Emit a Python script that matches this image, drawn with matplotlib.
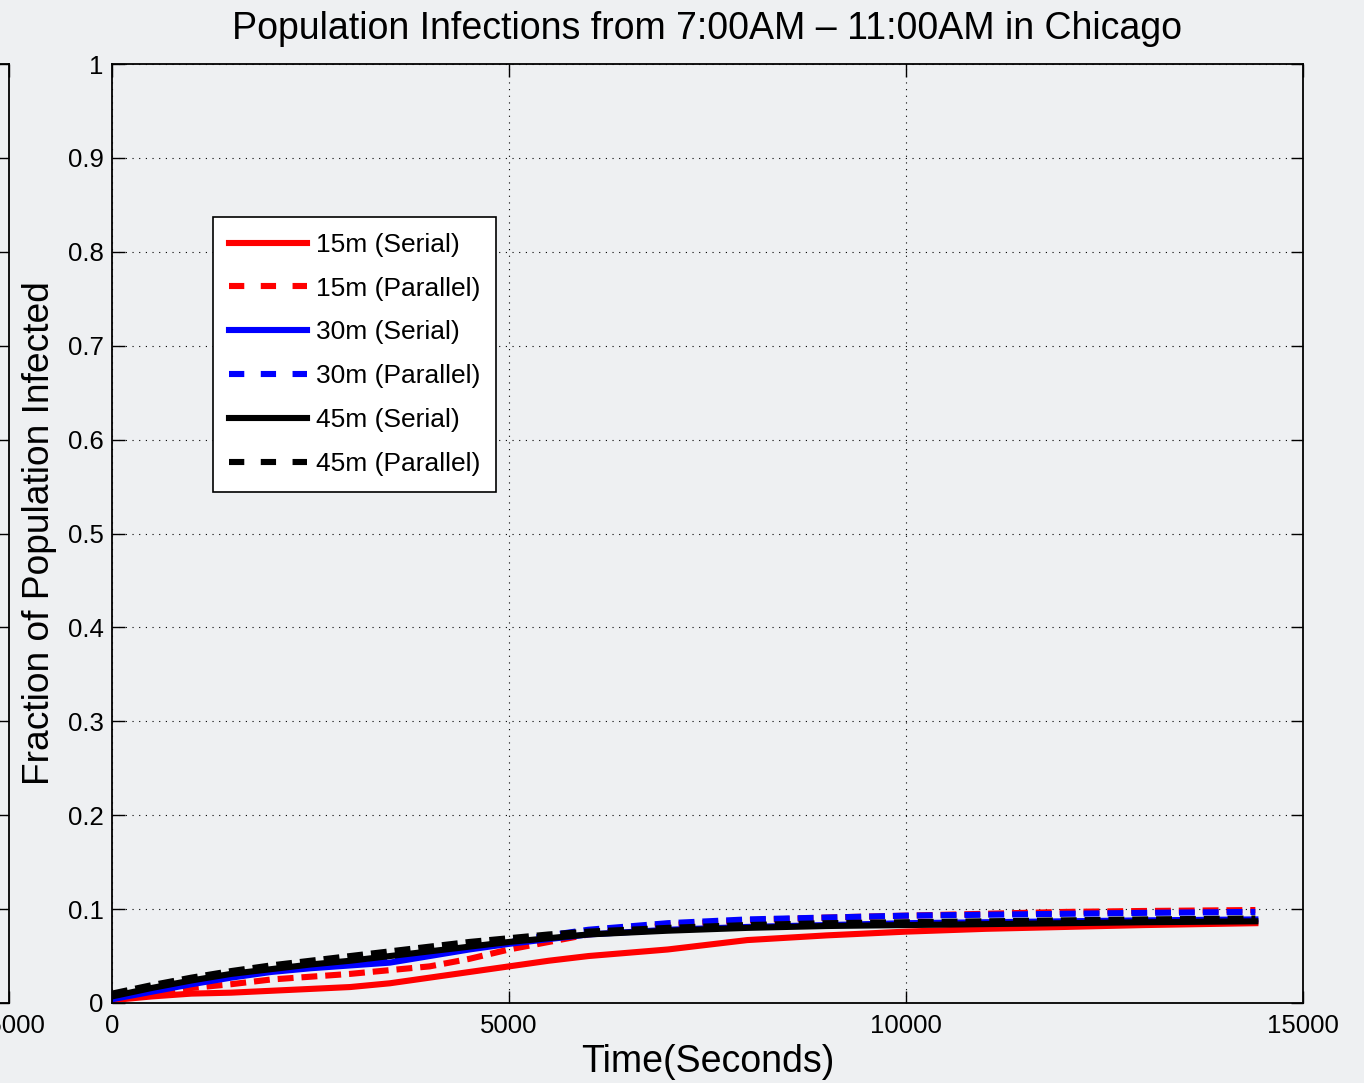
import matplotlib.pyplot as plt

# time axis (seconds) shared by all series
t = [0, 500, 1000, 1500, 2000, 2500, 3000, 3500, 4000, 4500, 5000,
     5500, 6000, 7000, 8000, 9000, 10000, 11000, 12000, 13000, 14400]

s15_serial = [0.003, 0.007, 0.010, 0.011, 0.013, 0.015, 0.017, 0.021, 0.027, 0.033, 0.039,
              0.045, 0.050, 0.057, 0.067, 0.072, 0.076, 0.079, 0.081, 0.083, 0.085]
s15_parallel = [0.005, 0.010, 0.016, 0.020, 0.025, 0.028, 0.031, 0.035, 0.039, 0.047, 0.057,
                0.065, 0.073, 0.083, 0.088, 0.091, 0.093, 0.095, 0.097, 0.098, 0.099]
s30_serial = [0.004, 0.012, 0.020, 0.027, 0.033, 0.037, 0.040, 0.043, 0.050, 0.057, 0.063,
              0.068, 0.073, 0.078, 0.081, 0.083, 0.085, 0.086, 0.087, 0.088, 0.089]
s30_parallel = [0.005, 0.013, 0.021, 0.028, 0.034, 0.038, 0.042, 0.047, 0.053, 0.059, 0.065,
                0.072, 0.078, 0.085, 0.089, 0.091, 0.093, 0.094, 0.095, 0.096, 0.097]
s45_serial = [0.007, 0.016, 0.024, 0.031, 0.036, 0.041, 0.045, 0.050, 0.055, 0.060, 0.065,
              0.069, 0.073, 0.077, 0.080, 0.082, 0.083, 0.084, 0.085, 0.086, 0.087]
s45_parallel = [0.010, 0.019, 0.027, 0.034, 0.040, 0.045, 0.050, 0.055, 0.060, 0.065, 0.069,
                0.073, 0.076, 0.080, 0.083, 0.085, 0.086, 0.087, 0.088, 0.089, 0.090]

series = [
    ("15m (Serial)", s15_serial, "red", "-"),
    ("15m (Parallel)", s15_parallel, "red", "--"),
    ("30m (Serial)", s30_serial, "blue", "-"),
    ("30m (Parallel)", s30_parallel, "blue", "--"),
    ("45m (Serial)", s45_serial, "black", "-"),
    ("45m (Parallel)", s45_parallel, "black", "--"),
]

x_ticks = [0, 5000, 10000, 15000]
y_ticks = [0, 0.1, 0.2, 0.3, 0.4, 0.5, 0.6, 0.7, 0.8, 0.9, 1]
y_labels = ["0", "0.1", "0.2", "0.3", "0.4", "0.5", "0.6", "0.7", "0.8", "0.9", "1"]

plt.rcParams['font.family'] = ['Liberation Sans', 'DejaVu Sans']
BG = '#eef0f2'
LW = 4.4

fig = plt.figure(figsize=(13.64, 10.83), dpi=100, facecolor=BG)

W, H = 1364.0, 1083.0
left, right, bottom, top = 112 / W, 1303 / W, 80 / H, 1019 / H


def style_axes(ax, full=True):
    ax.set_facecolor(BG)
    ax.set_xlim(0, 15000)
    ax.set_ylim(0, 1)
    ax.set_xticks(x_ticks)
    ax.set_yticks(y_ticks)
    if full:
        ax.set_xticklabels([str(v) for v in x_ticks])
        ax.set_yticklabels(y_labels)
    else:
        # neighbouring panel: only its last x label peeks into view
        ax.set_xticklabels([""] * (len(x_ticks) - 1) + [str(x_ticks[-1])])
        ax.set_yticklabels([])
    ax.tick_params(direction='in', length=9, width=1.0, top=True, right=True,
                   labelsize=18.5, colors='black')
    ax.tick_params(axis='x', pad=8)
    ax.tick_params(axis='y', pad=6)
    ax.grid(True, color='black', linestyle=(0, (1, 5)), linewidth=0.8)
    for sp in ax.spines.values():
        sp.set_linewidth(1.3)


# partially visible neighbouring panel on the far left
ax0 = fig.add_axes([9 / W - (right - left), bottom, right - left, top - bottom])
style_axes(ax0, full=False)

ax = fig.add_axes([left, bottom, right - left, top - bottom])
style_axes(ax)

for label, vals, color, ls in series:
    if ls == '--':
        ax.plot(t, vals, color=color, linewidth=LW, linestyle=(0, (2.6, 1.3)), label=label)
    else:
        ax.plot(t, vals, color=color, linewidth=LW, linestyle='-', label=label)

ax.set_title("Population Infections from 7:00AM \u2013 11:00AM in Chicago",
             fontsize=27, pad=18)
ax.set_xlabel("Time(Seconds)", fontsize=27, labelpad=4)
ax.set_ylabel("Fraction of Population Infected", fontsize=26.7, labelpad=8)

leg = ax.legend(loc='upper left', bbox_to_anchor=(0.0848, 0.837), borderaxespad=0,
                fontsize=19, handlelength=2.95, handletextpad=0.35,
                labelspacing=0.75, borderpad=0.6, fancybox=False,
                framealpha=1, edgecolor='black', facecolor='white')
leg.get_frame().set_linewidth(1.2)
for line, (_, _, _, ls) in zip(leg.get_lines(), series):
    if ls == '--':
        line.set_linestyle((0, (2.5, 2.7)))

fig.savefig('out.png', dpi=100, facecolor=BG)
